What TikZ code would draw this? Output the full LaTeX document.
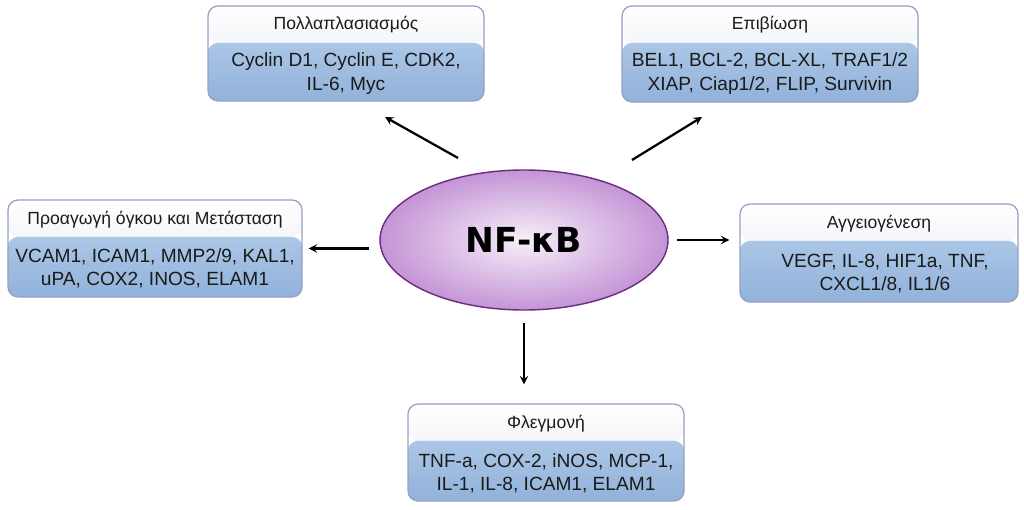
\documentclass[tikz,border=0pt]{standalone}
\usepackage{fontspec}
\setmainfont{Liberation Sans}
\newfontfamily\nffont{DejaVu Sans}
\usepackage{tikz,xcolor}
\usetikzlibrary{shapes.geometric,calc}
\definecolor{hdtop}{HTML}{FFFFFF}
\definecolor{hdbot}{HTML}{E2E8F1}
\definecolor{bdtop}{HTML}{ABC6E6}
\definecolor{bdbot}{HTML}{92B2DA}
\definecolor{boxline}{HTML}{9A9DC6}
\definecolor{nfin}{HTML}{F6F0F9}
\definecolor{nfout}{HTML}{C594D6}
\definecolor{nfline}{HTML}{6B2C7E}
\definecolor{txt}{HTML}{1A1A1A}
\tikzset{
  % box with a light header strip and a blue body
  catbox/.style={draw=boxline, line width=0.9pt, rounded corners=0.25cm, inner sep=0pt,
    path picture={
      \shade[top color=hdtop, bottom color=hdbot] (path picture bounding box.north west)
        rectangle ([yshift=-0.92cm]path picture bounding box.north east);
      \shade[top color=bdtop, bottom color=bdbot] ([yshift=-0.92cm]path picture bounding box.north west)
        rectangle (path picture bounding box.south east);
    }},
  headtxt/.style={text=txt, font=\fontsize{12.5}{14}\selectfont},
  bodytxt/.style={text=txt, align=center, inner sep=0pt, font=\fontsize{13.6}{16.8}\selectfont},
  arr/.style={->, >=stealth, line width=1.6pt},
}

\begin{document}
\begin{tikzpicture}
\useasboundingbox[fill=white] (0,0) rectangle (25.6,-12.725);

\node[ellipse, draw=nfline, line width=1pt, inner color=nfin, outer color=nfout,
  minimum width=7.2cm, minimum height=3.5cm] (nf) at (13.1,-6.0)
  {\nffont\fontsize{24.5}{30}\selectfont\bfseries NF-κB};

% boxes
\node[catbox, minimum width=6.9cm, minimum height=2.375cm] (prol) at (8.65,-1.3375) {};
\node[catbox, minimum width=7.4cm, minimum height=2.4cm] (surv) at (19.25,-1.35) {};
\node[catbox, minimum width=7.35cm, minimum height=2.425cm] (meta) at (3.875,-6.2125) {};
\node[catbox, minimum width=6.95cm, minimum height=2.45cm] (angio) at (21.975,-6.325) {};
\node[catbox, minimum width=6.9cm, minimum height=2.425cm] (infl) at (13.65,-11.3125) {};

\node[headtxt] (prolh) at ([yshift=-0.48cm]prol.north) {Πολλαπλασιασμός};
\node[bodytxt] (prolb) at ([yshift=-1.7cm]prol.north) {Cyclin D1, Cyclin E, CDK2,\\IL-6, Myc};
\node[headtxt] (survh) at ([yshift=-0.48cm]surv.north) {Επιβίωση};
\node[bodytxt] (survb) at ([yshift=-1.7cm]surv.north) {BEL1, BCL-2, BCL-XL, TRAF1/2\\XIAP, Ciap1/2, FLIP, Survivin};
\node[headtxt] (metah) at ([yshift=-0.52cm]meta.north) {Προαγωγή όγκου και Μετάσταση};
\node[bodytxt] (metab) at ([yshift=-1.72cm]meta.north) {VCAM1, ICAM1, MMP2/9, KAL1,\\uPA, COX2, INOS, ELAM1};
\node[headtxt] (angioh) at ([yshift=-0.5cm]angio.north) {Αγγειογένεση};
\node[bodytxt] (angiob) at ([xshift=0.15cm,yshift=-1.75cm]angio.north) {VEGF, IL-8, HIF1a, TNF,\\CXCL1/8, IL1/6};
\node[headtxt] (inflh) at ([yshift=-0.5cm]infl.north) {Φλεγμονή};
\node[bodytxt] (inflb) at ([yshift=-1.75cm]infl.north) {TNF-a, COX-2, iNOS, MCP-1,\\IL-1, IL-8, ICAM1, ELAM1};

% arrows
\coordinate (p1) at (11.45,-3.95);
\coordinate (q1) at (9.625,-2.925);
\coordinate (p2) at (15.8,-4.0);
\coordinate (q2) at (17.55,-2.925);
\draw[arr] (p1) -- (q1);
\draw[arr] (p2) -- (q2);
\draw[arr, shorten <=0.25cm, shorten >=0.15cm] (meta.east -| nf.west) -- (meta.east);
\draw[arr, shorten <=0.2cm, shorten >=0.25cm] (nf.east) -- (angio.west |- nf.east);
\draw[arr, shorten <=0.3cm, shorten >=0.475cm] (nf.south) -- (infl.north -| nf.south);
\end{tikzpicture}
\end{document}
